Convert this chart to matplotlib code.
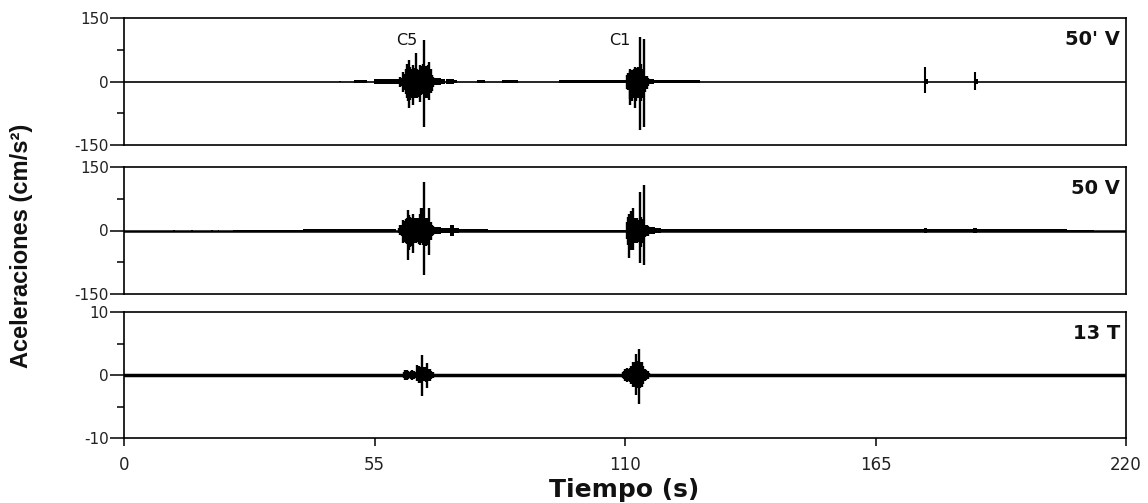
import matplotlib
matplotlib.use("Agg")
import matplotlib.pyplot as plt

plt.rcParams['font.family'] = ['DejaVu Sans']
plt.rcParams['axes.unicode_minus'] = False

# ---------------- data ----------------
panel_names = ["50' V", "50 V", "13 T"]
ylims = [150, 150, 10]
xticks = [0, 55, 110, 165, 220]
event_labels = ["C5", "C1"]
event_t = [62.1, 108.9]
event_y = [98, 98]

# background / tail envelope blocks (step-post): time, upper, lower
p1_env_t  = [47.3, 47.7, 50.5, 53.3, 54.8, 59.5, 60.3, 68.1, 69.5, 70.5, 70.8, 72.5, 73.1,
             77.5, 79.3, 83.0, 86.5, 95.5, 110.3, 115.3, 116.3, 126.5,
             175.7, 176.6, 186.6, 187.4]
p1_env_hi = [2, 0, 3, 0, 5, 6, 0, 9, 6, 0, 5, 3, 0,
             3, 0, 3, 0, 2.5, 0, 7, 3, 0,
             6, 0, 5, 0]
p1_env_lo = [-1, 0, -3, 0, -5, -6, 0, -9, -6, 0, -5, -3, 0,
             -3, 0, -3, 0, -2.5, 0, -7, -3, 0,
             -6, 0, -5, 0]
# isolated spikes
p1_spk_t  = [175.9, 186.8]
p1_spk_hi = [35, 23]
p1_spk_lo = [-28, -20]
# burst samples
p1_c5_t  = [60.4, 60.7, 61.0, 61.3, 61.6, 61.9, 62.2, 62.4, 62.6, 62.9, 63.2, 63.5, 63.8, 64.1,
            64.4, 64.7, 65.0, 65.3, 65.6, 65.9, 66.2, 66.5, 66.8, 67.0, 67.3, 67.6, 67.9]
p1_c5_hi = [6, 11, 9, 23, 18, 30, 42, 36, 51, 35, 30, 38, 33, 67,
            30, 26, 40, 36, 42, 98, 37, 33, 40, 45, 30, 15, 10]
p1_c5_lo = [-6, -12, -10, -24, -20, -30, -40, -45, -63, -43, -38, -55, -40, -40,
            -38, -36, -48, -32, -30, -107, -40, -38, -35, -44, -28, -22, -12]
p1_c1_t  = [110.4, 110.7, 111.0, 111.2, 111.5, 111.8, 112.0, 112.2, 112.5, 112.8, 113.0, 113.3,
            113.6, 113.9, 114.2, 114.5, 114.8, 115.1]
p1_c1_hi = [15, 19, 29, 25, 27, 24, 30, 35, 33, 35, 30, 104, 42, 30, 100, 14, 12, 8]
p1_c1_lo = [-18, -20, -55, -42, -47, -35, -40, -63, -45, -40, -35, -115, -45, -38, -107, -24, -18, -10]

p2_env_t  = [10.8, 11.1, 14.8, 15.1, 19.2, 19.5, 20.6, 20.9, 24.0, 39.4, 55.0, 59.8,
             68.0, 69.5, 71.6, 72.4, 73.5, 80.0, 110.2, 115.6, 116.5, 117.8,
             123.4, 123.8, 125.2, 125.6, 175.6, 176.3, 186.5, 187.3, 207.0, 213.0]
p2_env_hi = [2, 0, 2, 0, 2, 0, 2, 0, 2, 2.5, 4, 0,
             8, 5, 12, 5, 3, 2, 0, 8, 5, 2.5,
             4, 2.5, 4, 2.5, 6, 2.5, 6, 2.5, 1.5, 0]
p2_env_lo = [0, 0, 0, 0, 0, 0, 0, 0, -1, -2.5, -4, 0,
             -8, -5, -12, -5, -3, -2, 0, -8, -5, -2.5,
             -4, -2.5, -4, -2.5, -6, -2.5, -6, -2.5, -1.5, 0]
p2_spk_t  = []
p2_spk_hi = []
p2_spk_lo = []
p2_c5_t  = [60.4, 60.7, 61.0, 61.3, 61.6, 61.9, 62.2, 62.4, 62.6, 62.9, 63.2, 63.5, 63.8, 64.1,
            64.4, 64.7, 65.0, 65.3, 65.6, 65.9, 66.2, 66.5, 66.8, 67.0, 67.3, 67.6, 67.9]
p2_c5_hi = [5, 13, 12, 25, 22, 28, 30, 48, 36, 33, 30, 38, 29, 28,
            30, 29, 40, 54, 52, 114, 29, 30, 29, 52, 20, 13, 10]
p2_c5_lo = [-5, -11, -14, -30, -28, -30, -32, -70, -45, -40, -36, -54, -30, -30,
            -28, -32, -34, -30, -34, -105, -37, -35, -30, -57, -22, -14, -10]
p2_c1_t  = [110.4, 110.6, 110.9, 111.1, 111.4, 111.6, 111.8, 112.1, 112.4, 112.7, 113.0, 113.3,
            113.6, 113.9, 114.2, 114.5, 114.8, 115.1, 115.5]
p2_c1_hi = [20, 33, 40, 30, 47, 30, 52, 29, 27, 29, 25, 92, 33, 28, 108, 13, 12, 10, 8]
p2_c1_lo = [-20, -34, -66, -35, -46, -32, -46, -30, -28, -30, -27, -77, -40, -30, -81, -15, -14, -12, -9]

p3_env_t  = [0.0]
p3_env_hi = [0.0]
p3_env_lo = [0.0]
p3_spk_t  = []
p3_spk_hi = []
p3_spk_lo = []
p3_c5_t  = [61.5, 61.8, 62.1, 62.4, 62.7, 63.0, 63.3, 63.6, 63.9, 64.4, 64.7, 65.0, 65.3,
            65.5, 65.8, 66.1, 66.4, 66.6, 66.9, 67.2, 67.5, 67.8]
p3_c5_hi = [0.5, 0.8, 0.8, 0.6, 0.5, 0.6, 0.8, 0.7, 0.4, 1.6, 1.4, 1.2, 1.3,
            3.2, 1.3, 1.2, 1.1, 1.9, 1.0, 1.0, 0.7, 0.4]
p3_c5_lo = [-0.5, -0.8, -0.8, -0.6, -0.5, -0.6, -0.8, -0.7, -0.4, -1.0, -1.2, -1.2, -1.0,
            -3.4, -1.0, -1.0, -1.1, -2.1, -1.0, -1.0, -0.7, -0.4]
p3_c1_t  = [109.5, 109.8, 110.1, 110.4, 110.7, 111.0, 111.4, 111.7, 112.0, 112.3, 112.5, 112.8,
            113.1, 113.4, 113.7, 114.0, 114.4, 114.7, 115.0, 115.3]
p3_c1_hi = [0.4, 0.7, 0.9, 1.1, 1.0, 1.1, 1.5, 2.1, 1.8, 2.0, 3.4, 2.2,
            4.2, 2.1, 2.0, 1.5, 0.9, 0.8, 0.6, 0.3]
p3_c1_lo = [-0.4, -0.7, -0.9, -1.1, -1.0, -1.1, -1.5, -1.9, -1.8, -1.9, -3.2, -2.0,
            -4.6, -2.1, -1.9, -1.4, -0.9, -0.8, -0.6, -0.3]

panels = [
    dict(env=(p1_env_t, p1_env_hi, p1_env_lo), spk=(p1_spk_t, p1_spk_hi, p1_spk_lo),
         bursts=[(p1_c5_t, p1_c5_hi, p1_c5_lo), (p1_c1_t, p1_c1_hi, p1_c1_lo)]),
    dict(env=(p2_env_t, p2_env_hi, p2_env_lo), spk=(p2_spk_t, p2_spk_hi, p2_spk_lo),
         bursts=[(p2_c5_t, p2_c5_hi, p2_c5_lo), (p2_c1_t, p2_c1_hi, p2_c1_lo)]),
    dict(env=(p3_env_t, p3_env_hi, p3_env_lo), spk=(p3_spk_t, p3_spk_hi, p3_spk_lo),
         bursts=[(p3_c5_t, p3_c5_hi, p3_c5_lo), (p3_c1_t, p3_c1_hi, p3_c1_lo)]),
]

# ---------------- figure ----------------
fig = plt.figure(figsize=(11.48, 5.03), dpi=100)
left, width = 124 / 1148, 1002 / 1148
rects = [(18, 145), (167, 294), (312, 438)]
base_lw = [1.2, 1.8, 2.5]

axes = []
for i, (top, bot) in enumerate(rects):
    ax = fig.add_axes([left, 1 - bot / 503, width, (bot - top) / 503])
    axes.append(ax)
    p = panels[i]
    lim = ylims[i]
    ax.axhline(0, color='black', lw=base_lw[i], zorder=2)
    et, eh, el = p['env']
    ax.fill_between(et, eh, el, step='post', color='black', lw=0, zorder=3)
    st, sh, sl = p['spk']
    if len(st):
        ax.vlines(st, sl, sh, color='black', lw=1.5, zorder=4)
    for bt, bh, bl in p['bursts']:
        ax.vlines(bt, bl, bh, color='black', lw=1.7, zorder=4)
    ax.set_xlim(0, 220)
    ax.set_ylim(-lim, lim)
    ax.set_yticks([-lim, 0, lim])
    ax.set_yticks([-lim / 2, lim / 2], minor=True)
    ax.tick_params(axis='y', which='major', direction='out', length=10, width=1.1,
                   labelsize=11, labelcolor='#222222', pad=1)
    ax.tick_params(axis='y', which='minor', direction='out', length=5, width=1.1)
    for s in ax.spines.values():
        s.set_linewidth(1.2)
    ax.text(0.994, 0.83, panel_names[i], transform=ax.transAxes, ha='right', va='center',
            fontsize=14, fontweight='bold', color='#111111')
    if i < 2:
        ax.set_xticks([])
    else:
        ax.set_xticks(xticks)
        ax.set_xticklabels([str(v) for v in xticks])
        ax.tick_params(axis='x', direction='out', length=6, width=1.1,
                       labelsize=12, labelcolor='#222222', pad=7)

for lab, t, y in zip(event_labels, event_t, event_y):
    axes[0].text(t, y, lab, ha='center', va='center', fontsize=11.5, color='#111111')

fig.text(0.019, 0.511, "Aceleraciones (cm/s²)", rotation=90, ha='center', va='center',
         fontsize=17, fontweight='bold', color='#111111', family='Liberation Sans')
fig.text(0.544, 0.026, "Tiempo (s)", ha='center', va='center',
         fontsize=18, fontweight='bold', color='#111111')

fig.savefig("out.png", dpi=100)
